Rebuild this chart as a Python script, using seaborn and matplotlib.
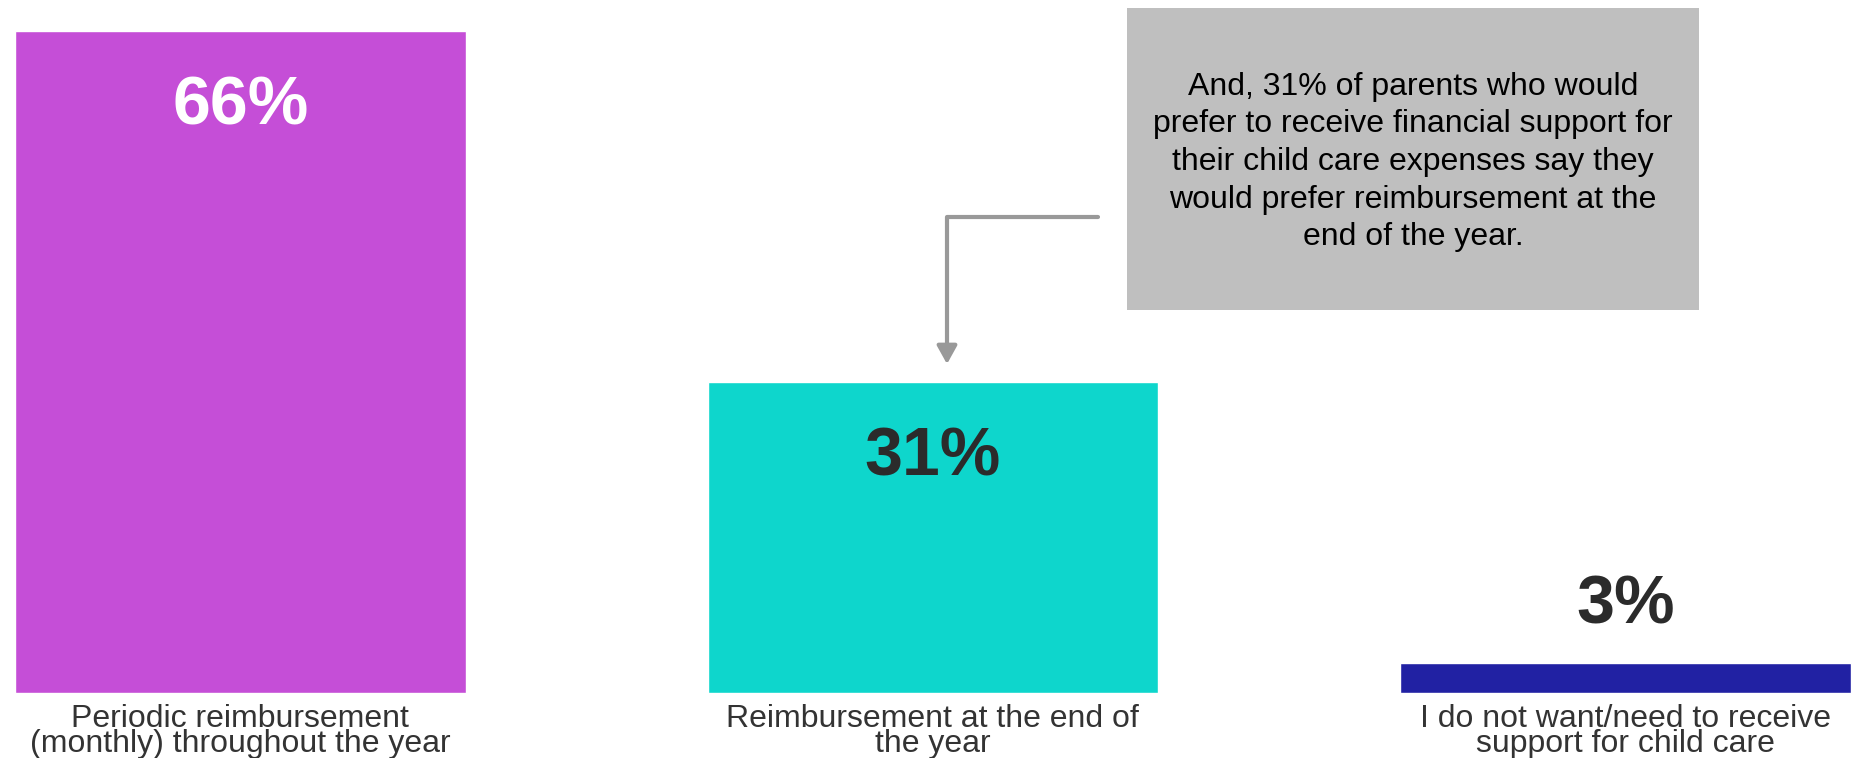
import matplotlib

matplotlib.use("Agg")
import matplotlib.pyplot as plt
import seaborn as sns
from matplotlib.patches import Rectangle

# Chart data
categories = [
    "Periodic reimbursement\n(monthly) throughout the year",
    "Reimbursement at the end of\nthe year",
    "I do not want/need to receive\nsupport for child care",
]
values = [66, 31, 3]
value_labels = ["66%", "31%", "3%"]
bar_colors = ["#C54ED7", "#0ED6CC", "#2121A3"]
callout_text = (
    "And, 31% of parents who would\n"
    "prefer to receive financial support for\n"
    "their child care expenses say they\n"
    "would prefer reimbursement at the\n"
    "end of the year."
)

W, H = 1852, 758


def setup_style():
    sns.set_theme(style="white")
    plt.rcParams["font.family"] = ["Liberation Sans", "DejaVu Sans"]


def main():
    setup_style()
    fig = plt.figure(figsize=(W / 100, H / 100), dpi=100)
    ax = fig.add_axes([0, 65 / H, 1, 693 / H])

    sns.barplot(
        x=categories,
        y=values,
        hue=categories,
        palette=bar_colors,
        saturation=1,
        width=0.651,
        legend=False,
        ax=ax,
    )
    ax.set_xlim(-0.3472, 2.3272)
    ax.set_ylim(0, 69.1)
    ax.set_yticks([])
    ax.set_xlabel("")
    ax.set_ylabel("")
    sns.despine(ax=ax, left=True, bottom=True)
    ax.tick_params(axis="x", length=0, pad=8)
    for lbl in ax.get_xticklabels():
        lbl.set_fontsize(23)
        lbl.set_color("#333333")
        lbl.set_linespacing(0.78)

    # value labels: inside the bar when it is tall enough, otherwise above
    for i, (v, txt) in enumerate(zip(values, value_labels)):
        if v > 10:
            y, color = v - 9.3, ("white" if i == 0 else "#2b2b2b")
        else:
            y, color = v + 3.9, "#2b2b2b"
        ax.text(i, y, txt, ha="center", va="baseline", fontsize=49,
                fontweight="bold", color=color)

    # grey callout box
    bx0, by0, bx1, by1 = 1127, 8, 1699, 310
    fig.add_artist(Rectangle(
        (bx0 / W, 1 - by1 / H), (bx1 - bx0) / W, (by1 - by0) / H,
        transform=fig.transFigure, facecolor="#BFBFBF", edgecolor="none",
    ))
    fig.text((bx0 + bx1) / 2 / W, 1 - 162 / H, callout_text, ha="center",
             va="center", fontsize=23, color="#000000", linespacing=1.33)

    # elbow arrow from the callout down to the second bar
    ax.annotate(
        "",
        xy=(947 / W, 1 - 364 / H),
        xytext=(1098 / W, 1 - 217 / H),
        xycoords="figure fraction",
        textcoords="figure fraction",
        arrowprops=dict(
            arrowstyle="-|>,head_length=0.9,head_width=0.5",
            connectionstyle="angle,angleA=180,angleB=90,rad=0",
            color="#999999",
            lw=3,
            shrinkA=0,
            shrinkB=0,
        ),
    )

    fig.savefig("out.png", dpi=100)
    plt.close(fig)


if __name__ == "__main__":
    main()
